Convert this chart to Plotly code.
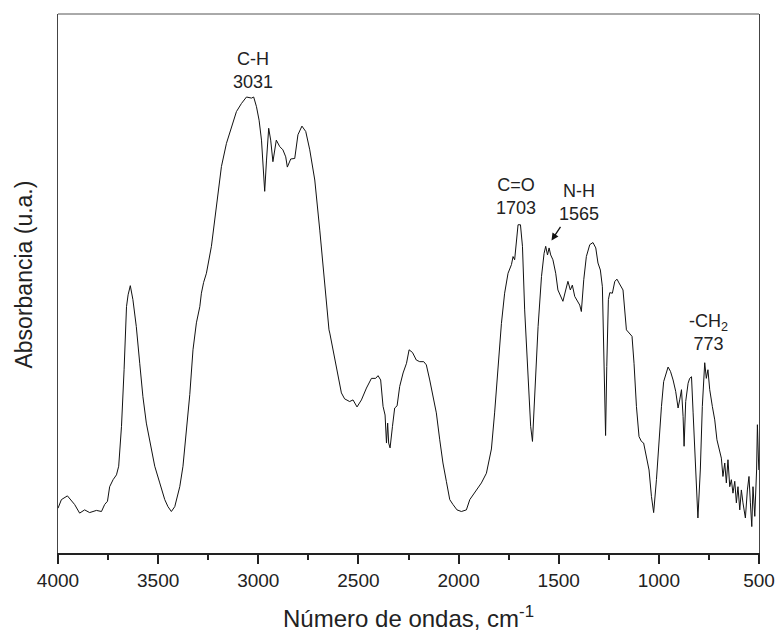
import plotly.graph_objects as go

# FTIR spectrum (wavenumber in cm^-1, absorbance in a.u.)
wavenumber = [
    4000, 3983, 3953, 3933, 3917, 3892, 3867, 3842, 3808, 3783, 3767, 3753, 3742, 3725, 3708, 3697,
    3683, 3670, 3658, 3650, 3639, 3626, 3609, 3592, 3576, 3559, 3534, 3517, 3492, 3467, 3451, 3434,
    3417, 3392, 3376, 3359, 3342, 3326, 3309, 3292, 3284, 3273, 3259, 3234, 3209, 3184, 3159, 3134,
    3109, 3084, 3059, 3034, 3023, 3009, 2996, 2984, 2968, 2959, 2948, 2938, 2927, 2910, 2893, 2877,
    2863, 2855, 2838, 2818, 2802, 2782, 2763, 2743, 2718, 2693, 2668, 2647, 2643, 2618, 2602, 2585,
    2569, 2544, 2527, 2507, 2485, 2460, 2435, 2414, 2402, 2389, 2377, 2367, 2360, 2354, 2349, 2342,
    2330, 2319, 2307, 2294, 2277, 2260, 2247, 2230, 2211, 2194, 2174, 2161, 2144, 2128, 2111, 2094,
    2078, 2061, 2044, 2028, 2008, 1986, 1961, 1944, 1911, 1886, 1861, 1836, 1820, 1803, 1786, 1770,
    1753, 1736, 1728, 1720, 1711, 1703, 1691, 1681, 1670, 1653, 1640, 1631, 1620, 1603, 1586, 1573,
    1565, 1556, 1548, 1540, 1529, 1515, 1504, 1492, 1479, 1465, 1454, 1442, 1432, 1420, 1409, 1395,
    1387, 1375, 1362, 1345, 1329, 1315, 1304, 1292, 1282, 1274, 1266, 1260, 1252, 1245, 1232, 1220,
    1209, 1199, 1179, 1162, 1149, 1134, 1124, 1112, 1099, 1087, 1076, 1062, 1049, 1037, 1026, 1012,
    999, 987, 976, 962, 954, 942, 929, 916, 904, 896, 887, 879, 874, 866, 854, 846,
    837, 829, 816, 805, 793, 783, 771, 763, 755, 746, 733, 721, 710, 700, 688, 680,
    671, 663, 655, 646, 638, 630, 621, 613, 605, 596, 588, 580, 568, 558, 550, 543,
    536, 530, 521, 512, 508, 501,
]
absorbance = [
    0.083, 0.099, 0.106, 0.096, 0.090, 0.074, 0.080, 0.075, 0.079, 0.077, 0.090, 0.096, 0.123, 0.136, 0.145, 0.161,
    0.235, 0.340, 0.457, 0.479, 0.496, 0.470, 0.420, 0.352, 0.290, 0.241, 0.192, 0.161, 0.130, 0.099, 0.086, 0.077,
    0.086, 0.123, 0.161, 0.229, 0.294, 0.377, 0.427, 0.457, 0.482, 0.502, 0.519, 0.569, 0.643, 0.717, 0.760, 0.791,
    0.819, 0.834, 0.846, 0.844, 0.846, 0.828, 0.803, 0.766, 0.671, 0.729, 0.788, 0.766, 0.726, 0.766, 0.754, 0.748,
    0.735, 0.716, 0.731, 0.732, 0.776, 0.792, 0.782, 0.748, 0.692, 0.599, 0.494, 0.414, 0.408, 0.358, 0.327, 0.297,
    0.286, 0.281, 0.284, 0.271, 0.284, 0.306, 0.324, 0.324, 0.329, 0.321, 0.272, 0.256, 0.204, 0.241, 0.204, 0.195,
    0.235, 0.269, 0.273, 0.309, 0.334, 0.352, 0.377, 0.372, 0.358, 0.355, 0.355, 0.349, 0.321, 0.294, 0.260, 0.210,
    0.167, 0.133, 0.099, 0.090, 0.080, 0.077, 0.080, 0.099, 0.117, 0.130, 0.148, 0.193, 0.260, 0.346, 0.426, 0.482,
    0.519, 0.535, 0.550, 0.544, 0.581, 0.609, 0.609, 0.569, 0.451, 0.315, 0.235, 0.207, 0.284, 0.420, 0.513, 0.556,
    0.569, 0.553, 0.566, 0.553, 0.544, 0.519, 0.488, 0.476, 0.467, 0.488, 0.504, 0.488, 0.497, 0.476, 0.470, 0.460,
    0.448, 0.507, 0.550, 0.572, 0.576, 0.566, 0.538, 0.525, 0.494, 0.377, 0.218, 0.346, 0.470, 0.483, 0.482, 0.504,
    0.508, 0.501, 0.488, 0.414, 0.408, 0.402, 0.352, 0.272, 0.216, 0.207, 0.204, 0.179, 0.154, 0.105, 0.075, 0.136,
    0.210, 0.272, 0.318, 0.337, 0.345, 0.337, 0.321, 0.300, 0.269, 0.284, 0.303, 0.253, 0.198, 0.281, 0.315, 0.324,
    0.327, 0.260, 0.148, 0.065, 0.154, 0.272, 0.353, 0.324, 0.340, 0.303, 0.272, 0.247, 0.210, 0.192, 0.176, 0.142,
    0.167, 0.130, 0.173, 0.123, 0.136, 0.111, 0.133, 0.093, 0.123, 0.080, 0.117, 0.093, 0.065, 0.117, 0.142, 0.093,
    0.049, 0.123, 0.068, 0.154, 0.238, 0.154,
]

tick_values = [4000, 3500, 3000, 2500, 2000, 1500, 1000, 500]
tick_labels = ["4000", "3500", "3000", "2500", "2000", "1500", "1000", "500"]

# Band labels: (text, wavenumber, absorbance)
band_text = ["C-H<br>3031", "C=O<br>1703", "N-H<br>1565", "-CH<sub>2</sub><br>773"]
band_x = [3028, 1715, 1400, 751]
band_y = [0.895, 0.661, 0.651, 0.410]

FONT = "Liberation Sans, Arial, Helvetica, sans-serif"
TXT = "#222222"

fig = go.Figure()
fig.add_trace(go.Scatter(
    x=wavenumber, y=absorbance, mode="lines",
    line=dict(color="#111111", width=1), showlegend=False, hoverinfo="skip",
))

annotations = []
for t, bx, by in zip(band_text, band_x, band_y):
    annotations.append(dict(
        x=bx, y=by, xref="x", yref="y", text=t, showarrow=False,
        font=dict(family=FONT, size=18, color=TXT), xanchor="center", yanchor="middle",
    ))

# arrow pointing to the N-H band
annotations.append(dict(
    x=1536, y=0.580, xref="x", yref="y", text="", showarrow=True,
    ax=10, ay=-15, arrowhead=2, arrowsize=1.1, arrowwidth=1.3, arrowcolor="#111111",
))

# axis titles
annotations.append(dict(
    x=0.5, y=-0.118, xref="paper", yref="paper",
    text="Número de ondas, cm<sup>-1</sup>", showarrow=False,
    font=dict(family=FONT, size=24, color=TXT), xanchor="center", yanchor="middle",
))
annotations.append(dict(
    x=-0.049, y=0.516, xref="paper", yref="paper",
    text="Absorbancia (u.a.)", showarrow=False, textangle=-90,
    font=dict(family=FONT, size=23, color=TXT), xanchor="center", yanchor="middle",
))

fig.update_layout(
    width=777, height=635,
    margin=dict(l=58, r=18, t=14, b=82, autoexpand=False),
    paper_bgcolor="white", plot_bgcolor="white",
    font=dict(family=FONT, color=TXT),
    annotations=annotations,
    shapes=[dict(type="line", xref="paper", yref="paper", x0=0, x1=1, y0=1, y1=1,
                 line=dict(color="#555555", width=1))],
    xaxis=dict(
        range=[4000, 500], tickmode="array", tickvals=tick_values, ticktext=tick_labels,
        ticks="outside", ticklen=9, tickwidth=1.5, tickcolor="#222222",
        minor=dict(ticks="outside", ticklen=5, tickwidth=1.5, dtick=250, tickcolor="#222222"),
        showline=True, linecolor="#222222", linewidth=2,
        showgrid=False, zeroline=False, automargin=False,
        tickfont=dict(family=FONT, size=19, color=TXT),
    ),
    yaxis=dict(
        range=[0, 1], showticklabels=False, ticks="",
        showline=True, linecolor="#444444", linewidth=1.2, mirror=True,
        showgrid=False, zeroline=False, automargin=False,
    ),
)

fig.write_html("out.html")
